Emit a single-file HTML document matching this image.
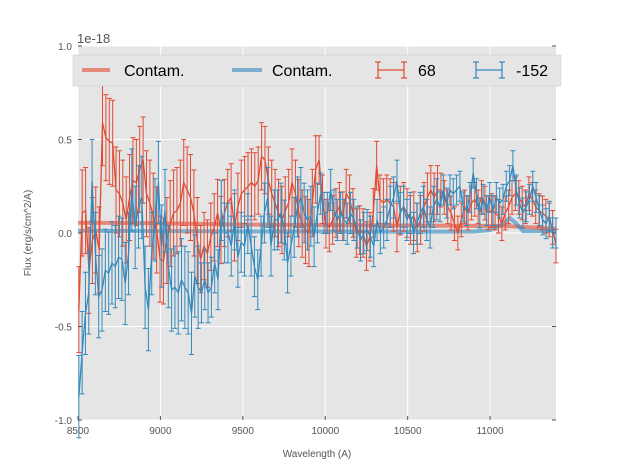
<!DOCTYPE html>
<html><head><meta charset="utf-8"><style>
body{margin:0;background:#fff;width:617px;height:467px;overflow:hidden}
svg{font-family:"Liberation Sans",sans-serif}
</style></head><body>
<svg id="chart" width="617" height="467">
<rect x="78" y="46" width="478" height="374" fill="#E5E5E5"/>
<g id="grid"></g><g id="marks"></g><g id="axes"></g>
<text x="77" y="43" font-size="13" fill="#555">1e-18</text>
<text x="317" y="457" font-size="10" fill="#555" text-anchor="middle">Wavelength (A)</text>
<text transform="translate(31,233) rotate(-90)" font-size="10" fill="#555" text-anchor="middle">Flux (erg/s/cm^2/A)</text>
<g>
<rect x="73" y="55" width="488" height="31" fill="#E5E5E5" stroke="#ccc" stroke-width="0.5"/>
<line x1="82" y1="70" x2="110" y2="70" stroke="#E24A33" stroke-opacity="0.6" stroke-width="4"/>
<text x="124" y="76" font-size="16" fill="#000">Contam.</text>
<line x1="232" y1="70" x2="262" y2="70" stroke="#348ABD" stroke-opacity="0.6" stroke-width="4"/>
<text x="272" y="76" font-size="16" fill="#000">Contam.</text>
<g stroke="#E24A33" stroke-width="1.2"><line x1="378" y1="70" x2="404" y2="70"/><line x1="378" y1="62" x2="378" y2="78"/><line x1="404" y1="62" x2="404" y2="78"/><line x1="375" y1="62" x2="381" y2="62"/><line x1="375" y1="78" x2="381" y2="78"/><line x1="401" y1="62" x2="407" y2="62"/><line x1="401" y1="78" x2="407" y2="78"/></g>
<text x="418" y="76" font-size="16" fill="#000">68</text>
<g stroke="#348ABD" stroke-width="1.2"><line x1="476" y1="70" x2="502" y2="70"/><line x1="476" y1="62" x2="476" y2="78"/><line x1="502" y1="62" x2="502" y2="78"/><line x1="473" y1="62" x2="479" y2="62"/><line x1="473" y1="78" x2="479" y2="78"/><line x1="499" y1="62" x2="505" y2="62"/><line x1="499" y1="78" x2="505" y2="78"/></g>
<text x="516" y="76" font-size="16" fill="#000">-152</text>
</g>
</svg>
<script>
const xTicks=[8500,9000,9500,10000,10500,11000];
const yTicks=[-1.0,-0.5,0.0,0.5,1.0];
const yTickLabels=["-1.0","-0.5","0.0","0.5","1.0"];
const waveStart=8505, waveEnd=11400;
const redFlux=[-4.1,1.07,1.2,-2.0,-0.4,0.16,-0.9,5.9,5.1,4.9,4.8,2.3,2.1,1.6,0.7,1.9,2.8,2.7,3.4,3.9,2.1,1.6,0.9,0.16,-1.4,-1.5,-0.4,0.5,1.07,1.2,1.6,2.7,2.3,1.9,1.07,-0.4,-1.4,-0.7,-1.1,-0.2,0.3,
1.07,0.16,1.07,1.6,1.9,0.3,1.4,2.1,2.3,2.5,2.7,2.5,2.8,4.1,3.9,2.8,2.1,1.6,1.07,0.7,1.2,1.6,2.7,2.1,1.07,0.5,0.16,0,1.6,3.4,3.9,1.8,0.5,0.3,0.7,1.07,1.4,0.9,2.1,1.8,1.07,0,0.16,0,-0.7,-0.2,1.07,3.6,1.8,1.6,
1.8,1.6,1.4,0.3,1.2,1.4,1.07,0.7,0.9,0.3,0.7,1.4,1.9,2.3,1.9,2.3,2.3,1.9,1.4,1.07,0.5,0,0.7,1.4,1.07,1.6,1.8,1.4,1.9,1.6,1.07,1.2,1.07,0.9,0.5,1.07,1.4,1.9,2.1,1.9,1.6,1.4,2.1,1.8,1.4,1.2,1.07,0.9,0.7,0.3,-0.7];
const blueFlux=[-8.75,-6.4,-4.3,-3.2,2.8,-1.1,-3.4,-3.05,-2.0,-2.15,-1.6,-1.8,-1.3,-1.4,-2.7,-1.1,2.3,0.3,1.4,1.9,-2.9,-4.1,-1.1,0.7,2.7,-0.7,1.2,-1.8,-3.05,-2.9,-3.2,-2.5,-2.9,-3.2,-4.3,-2.3,-2.9,-3.2,-2.5,-3.2,-2.9,-1.6,-2.5,1.2,0,
0,-0.7,0.7,-1.3,-0.5,-0.7,0.5,-0.7,-1.8,-2.5,-0.7,1.07,1.9,-0.7,0.7,0.7,1.07,0.16,-1.6,-0.7,0.3,1.4,1.9,1.07,0.7,0.9,-0.2,1.07,2.1,1.07,1.07,2.3,1.2,0.7,1.07,0.7,0.5,1.07,0.7,0.3,-0.4,0,0.16,-0.2,-0.7,0.7,0,0.3,0.7,
1.4,1.9,2.8,1.07,1.4,0.7,1.07,0,0.5,1.07,1.4,0.7,0.3,1.4,1.8,1.4,2.3,1.6,2.3,2.1,2.3,2.5,1.4,1.2,1.9,3.2,2.1,1.07,1.8,1.2,1.9,1.2,1.9,1.6,1.8,2.5,2.8,3.6,2.3,1.6,1.07,1.4,1.8,2.5,1.9,1.2,0.7,0.5,0.9,0,0];
const redErrLevels=[2.3,1.8,1.3,0.9];
const blueErrLevels=[2.2,1.6,1.1,0.8];
const contamWave=[8500,9000,9500,10000,10500,10900,11000,11080,11120,11160,11200,11300,11400];
const contamRed=[0.55,0.52,0.45,0.42,0.40,0.38,0.38,0.38,0.36,0.35,0.32,0.28,0.22];
const contamBlue=[0.12,0.1,0.08,0.08,0.07,0.08,0.15,0.5,0.8,0.5,0.1,0.1,0.08];

const X0=78,X1=556,Y0=420,Y1=46;
const xs=w=>X0+(w-8500)/(11400-8500)*(X1-X0);
const ys=v=>Y0-(v+1)/2*(Y0-Y1);
const NS="http://www.w3.org/2000/svg";
const mk=(t,a,p)=>{const e=document.createElementNS(NS,t);for(const k in a)e.setAttribute(k,a[k]);p.appendChild(e);return e;};
const grid=document.getElementById('grid'),marks=document.getElementById('marks'),axes=document.getElementById('axes');
xTicks.forEach(t=>{const x=xs(t);
 const g=mk('line',{x1:x,x2:x,y1:Y1,y2:Y0,stroke:'#fff','stroke-width':1},grid);
 
 const tk=mk('line',{x1:x,x2:x,y1:Y0,y2:Y0-4,stroke:'#555'},axes);
 
 const lb=mk('text',{x:x,y:Y0+14,'font-size':10,fill:'#555','text-anchor':'middle'},axes);lb.textContent=t;
 });
yTicks.forEach((t,i)=>{const y=ys(t);
 const g=mk('line',{x1:X0,x2:X1,y1:y,y2:y,stroke:'#fff','stroke-width':1},grid);
 
 const tk=mk('line',{x1:X0,x2:X0+4,y1:y,y2:y,stroke:'#555'},axes);
 
 const tk2=mk('line',{x1:X1,x2:X1-4,y1:y,y2:y,stroke:'#555'},axes);
 
 const lb=mk('text',{x:X0-6,y:y+4,'font-size':10,fill:'#555','text-anchor':'end'},axes);lb.textContent=yTickLabels[i];
 });

function contam(wv,vals,color,name){
 const pts=wv.map((w,i)=>xs(w)+','+ys(vals[i]/10)).join(' ');
 const p=mk('polyline',{points:pts,fill:'none',stroke:color,'stroke-opacity':0.6,'stroke-width':4},marks);
 }
function series(flux,errLv,color,name){
 const n=flux.length,step=(waveEnd-waveStart)/(n-1);
 const g=mk('g',{},marks);
 const pts=[];
 flux.forEach((f,i)=>{const w=waveStart+i*step,v=f/10,e=errLv[Math.min(3,Math.floor(i/n*4))]/10;
  const x=xs(w);pts.push(x+','+ys(v));
  const b=mk('path',{d:`M${x},${ys(v-e)}V${ys(v+e)}M${x-2.5},${ys(v-e)}h5M${x-2.5},${ys(v+e)}h5`,stroke:color,'stroke-width':1,fill:'none'},g);
  });
 const l=mk('polyline',{points:pts.join(' '),fill:'none',stroke:color,'stroke-width':1.3},g);
 }
contam(contamWave,contamRed,'#E24A33','contam-red-line');
contam(contamWave,contamBlue,'#348ABD','contam-blue-line');
series(redFlux,redErrLevels,'#E24A33','series-68');
series(blueFlux,blueErrLevels,'#348ABD','series-minus152');
</script>
</body></html>
